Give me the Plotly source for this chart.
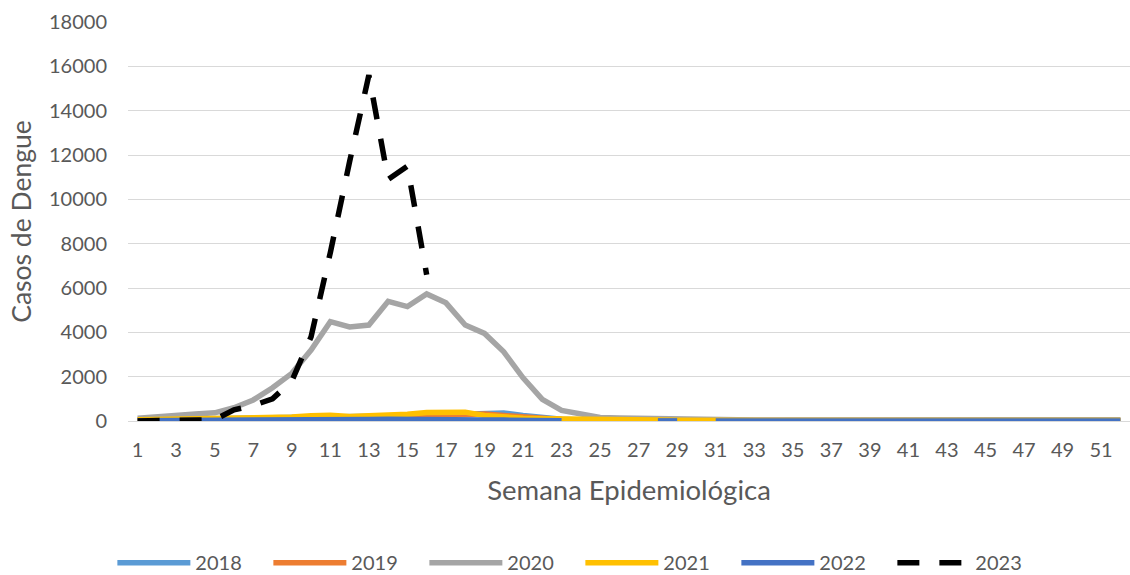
import plotly.graph_objects as go

weeks = list(range(1, 53))
week_ticks = list(range(1, 52, 2))
y_ticks = list(range(0, 18001, 2000))

s2018 = [50, 60, 70, 80, 90, 100, 110, 120, 130, 150, 170, 180, 190, 200, 220, 250, 280, 320, 380, 360,
         250, 150, 80, 50, 40, 30, 25, 20, 20, 20, 20, 20, 20, 20, 20, 20, 20, 20, 20, 20,
         20, 20, 20, 20, 20, 20, 20, 20, 20, 20, 20, 20]
s2019 = [40, 50, 50, 60, 60, 70, 80, 90, 100, 120, 140, 150, 160, 180, 200, 230, 260, 300, 320, 250,
         180, 120, 70, 50, 40, 30, 25, 20, 20, 20, 20, 20, 20, 20, 20, 20, 20, 20, 20, 20,
         20, 20, 20, 20, 20, 20, 20, 20, 20, 20, 20, 20]
s2020 = [120, 200, 250, 320, 370, 600, 950, 1500, 2150, 3200, 4480, 4240, 4330, 5400, 5160, 5730, 5330, 4330, 3950, 3120,
         1950, 980, 480, 290, 160, 130, 110, 80, 60, 50, 45, 40, 40, 40, 40, 40, 40, 40, 40, 40,
         40, 40, 40, 40, 40, 45, 50, 60, 70, 75, 70, 60]
s2021 = [60, 70, 80, 90, 100, 120, 130, 150, 180, 240, 260, 200, 220, 250, 300, 380, 400, 400, 250, 170,
         120, 100, 80, 70, 60, 50, 45, 40, 30, 25, 20, 20, 20, 20, 20, 20, 20, 20, 20, 20,
         20, 20, 20, 20, 20, 20, 20, 20, 20, 20, 20, 20]
s2022 = [10, 10, 10, 10, 10, 15, 15, 20, 20, 30, 40, 50, 70, 80, 85, 90, 85, 75, 50, 40,
         25, 20, 15, None, None, None, None, 5, 5, None, 5, 5, 5, 5, 5, 5, 5, 5, 5, 5,
         5, 5, 5, 5, 5, 5, 5, 5, 5, 5, 5, 5]
s2023 = [0, 0, 0, 0, 60, 500, 700, 1000, 1800, 3800, 7600, 11700, 15600, 10900, 11500, 6600] + [None] * 36

series = [
    ("2018", s2018, "#5B9BD5", "solid"),
    ("2019", s2019, "#ED7D31", "solid"),
    ("2020", s2020, "#A5A5A5", "solid"),
    ("2021", s2021, "#FFC000", "solid"),
    ("2022", s2022, "#4472C4", "solid"),
    ("2023", s2023, "#000000", "22px,20px"),
]

FONT = "Lato"
GREY_TXT = "#595959"

fig = go.Figure()
for name, vals, color, dash in series:
    fig.add_trace(go.Scatter(
        x=weeks, y=vals, name=name, mode="lines",
        line=dict(color=color, width=5.5, dash=dash),
        connectgaps=False,
    ))

fig.update_layout(
    width=1130, height=575,
    margin=dict(l=128, r=0, t=22, b=154),
    paper_bgcolor="white", plot_bgcolor="white",
    font=dict(family=FONT, size=20, color=GREY_TXT),
    showlegend=True,
    legend=dict(
        orientation="h",
        xref="container", yref="container",
        x=0.5136, y=0.0215, xanchor="center", yanchor="middle",
        itemwidth=73,
        entrywidth=68, entrywidthmode="pixels",
        font=dict(family=FONT, size=20, color=GREY_TXT),
        traceorder="normal",
    ),
    xaxis=dict(
        range=[0.5, 52.5],
        tickmode="array", tickvals=week_ticks, ticktext=[str(v) for v in week_ticks],
        showgrid=False, zeroline=False,
        showline=True, linecolor="#D9D9D9", linewidth=1,
        ticks="", ticklabelstandoff=11,
        tickfont=dict(family=FONT, size=20, color=GREY_TXT),
        title=dict(text="Semana Epidemiológica", font=dict(family=FONT, size=27.5, color=GREY_TXT), standoff=20),
    ),
    yaxis=dict(
        range=[0, 18000],
        tickmode="array", tickvals=y_ticks, ticktext=[str(v) for v in y_ticks],
        showgrid=True, gridcolor="#D9D9D9", gridwidth=1,
        zeroline=True, zerolinecolor="#D9D9D9", zerolinewidth=1,
        showline=False,
        ticks="", ticklabelstandoff=20,
        tickfont=dict(family=FONT, size=20, color=GREY_TXT),
        title=dict(text="Casos de Dengue", font=dict(family=FONT, size=26.5, color=GREY_TXT), standoff=9),
    ),
)

fig.write_html("out.html", config={"displayModeBar": False},
               post_script="document.body.style.margin='0';")
